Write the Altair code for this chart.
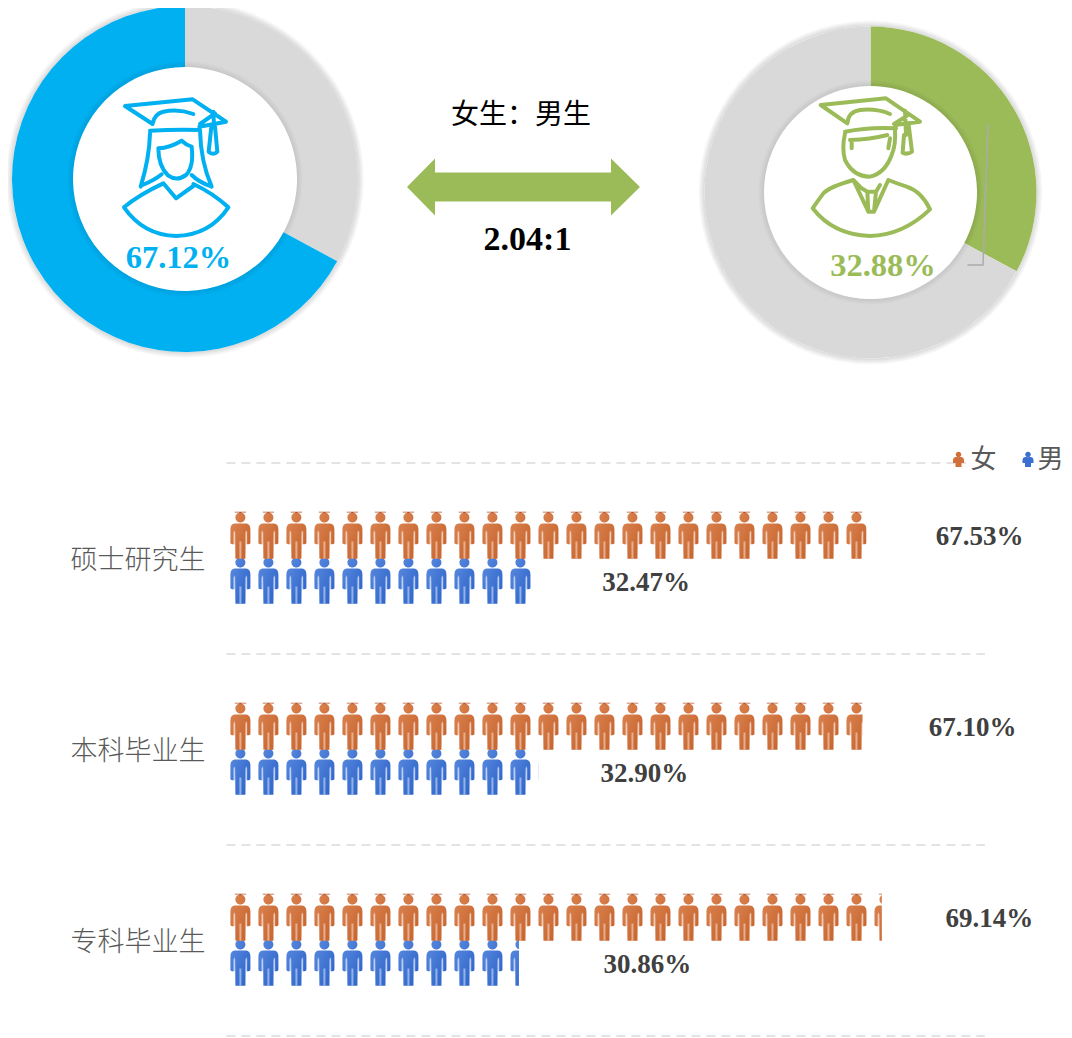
import math
import altair as alt
import pandas as pd

# ---- data ----
categories = ["硕士研究生", "本科毕业生", "专科毕业生"]
female = [67.53, 67.10, 69.14]
male = [32.47, 32.90, 30.86]
overall_female = 67.12
overall_male = 32.88
ratio_text = "2.04:1"
ratio_title = "女生：男生"
legend_names = ["女", "男"]

BLUE, GREEN, GREY = "#00B0F0", "#9BBB59", "#D9D9D9"
LABEL = "#404040"
CAT = "#595959"
W, H = 1056, 1030
UNIT = 2.954  # percent per pictogram
SERIF = "Liberation Serif"
SANS = "Noto Sans CJK SC"

XS = alt.Scale(domain=[0, 100], range=[218.4, 1166.4])
YS = alt.Scale(domain=[0, 3], range=[455, 1028])
one = pd.DataFrame({"a": [0]})
layers = []


def at(x, y):
    return dict(x=alt.value(x - 8), y=alt.value(y - 8))


def txt(s, x, y, size, color, font=SERIF, bold=True):
    layers.append(
        alt.Chart(pd.DataFrame({"t": [s]}))
        .mark_text(fontSize=size, font=font, fontWeight="bold" if bold else "normal",
                   color=color, align="center", baseline="middle")
        .encode(text="t:N", **at(x, y))
    )


def shape(path, x, y, unit=1.0, fill=None, stroke=None, sw=0):
    kw = dict(shape=path, size=(2 * unit) ** 2, opacity=1)
    if fill is not None:
        kw.update(filled=True, fill=fill, strokeWidth=0)
    else:
        kw.update(filled=False, stroke=stroke, strokeWidth=sw, strokeCap="round", strokeJoin="round")
    layers.append(alt.Chart(one).mark_point(**kw).encode(**at(x, y)))


def donut(cx, cy, ro, ri, first_val, first_col, second_val, second_col):
    for i in range(1, 7):
        layers.append(alt.Chart(one).mark_arc(radius=ro + i, radius2=ro, theta=0, theta2=2 * math.pi,
                                              color="#000000", opacity=0.022).encode(**at(cx, cy)))
    d = pd.DataFrame({"v": [first_val, second_val], "c": [first_col, second_col], "o": [0, 1]})
    layers.append(
        alt.Chart(d).mark_arc(radius=ro, radius2=ri, opacity=1)
        .encode(theta=alt.Theta("v:Q", scale=alt.Scale(domain=[0, 100], range=[0, 2 * math.pi]), stack=True),
                color=alt.Color("c:N", scale=None), order=alt.Order("o:Q"), **at(cx, cy))
    )
    for i in range(1, 7):
        layers.append(alt.Chart(one).mark_arc(radius=ri + i, radius2=ri, theta=0, theta2=2 * math.pi,
                                              color="#000000", opacity=0.012).encode(**at(cx, cy)))


# ---- donuts ----
donut(185, 179, 173, 112, overall_male, GREY, overall_female, BLUE)
donut(870.5, 192.5, 166, 106.5, overall_male, GREEN, overall_female, GREY)

# graduate icons (paths in 1/3 px units, origin at the crop corner)
F_ICON = ("M75 78 L278 58 L378 125 L298 140 M75 78 L158 132 M158 130 Q165 100 190 95 Q235 85 280 102 "
          "M150 152 Q225 148 300 150 M340 95 L342 138 M300 132 L345 100 "
          "M334 140 L326 215 Q340 228 352 215 L345 140 Z "
          "M150 160 Q148 235 122 320 M300 150 Q302 245 335 320 M128 315 Q165 300 185 283 M275 285 Q295 305 330 318 "
          "M175 205 Q210 203 245 182 Q260 196 275 200 Q282 260 258 285 Q230 305 205 287 Q175 260 175 205 Z "
          "M192 312 L228 355 L280 318 "
          "M72 382 Q115 345 190 310 M385 382 Q340 340 280 312 "
          "M72 382 Q130 465 228 468 Q330 465 385 382")
M_ICON = ("M92 75 L288 55 L390 125 L315 135 M92 75 L172 130 M172 130 Q175 95 210 90 Q260 85 300 102 "
          "M165 155 Q240 140 318 145 M180 180 Q240 178 292 165 M345 92 L348 165 M312 132 L350 108 "
          "M342 165 L338 218 Q352 225 366 215 L356 135 "
          "M165 160 Q155 205 165 240 Q190 290 240 290 Q285 280 305 225 Q318 195 315 150 "
          "M185 180 L185 205 M300 175 L295 205 "
          "M190 300 Q120 320 100 340 Q85 360 68 385 Q130 465 240 468 Q340 465 420 388 Q395 335 350 320 Q320 310 295 300 "
          "M190 300 L235 395 L232 335 L215 325 M190 300 L215 325 M258 335 L252 395 L295 300 M232 335 L258 335 L270 315 M235 395 L252 395")
shape(F_ICON, 100, 80, 1 / 3, stroke=BLUE, sw=4)
shape(M_ICON, 790, 80, 1 / 3, stroke=GREEN, sw=4)
shape("M988 124 L983 265 L968 265", 0, 0, 1, stroke="#ABABAB", sw=1.5)

txt(f"{overall_female:.2f}%", 178.5, 258, 32.5, BLUE)
txt(f"{overall_male:.2f}%", 883, 266, 32.5, GREEN)

# ---- centre ----
txt(ratio_title, 521, 115.5, 28, "#000000", font=SANS, bold=False)
shape("M-116.5 0 L-88.5 -28.5 L-88.5 -14.5 L87.5 -14.5 L87.5 -28.5 L116.5 0 L87.5 28.5 L87.5 14.5 "
      "L-88.5 14.5 L-88.5 28.5 Z", 523.5, 187, 1, fill=GREEN)
txt(ratio_text, 527.5, 240, 34, "#000000")

# ---- dashed separators ----
sep = pd.DataFrame({"r": [0, 1, 2, 3], "a": [0, 0, 0, 0], "b": [78, 80, 80, 80]})
layers.append(
    alt.Chart(sep).mark_rule(color="#E3E3E3", strokeWidth=2, strokeDash=[9, 6])
    .encode(x=alt.X("a:Q", scale=XS, axis=None), x2="b:Q", y=alt.Y("r:Q", scale=YS, axis=None))
)

# ---- pictograms ----
BODY = ("M-17 -36 L17 -36 Q30 -34 30 -18 L30 22 Q30 26 25 26 L20 26 L20 -10 L16 -10 L15 70 L-15 70 L-16 -10 "
        "L-20 -10 L-20 26 L-25 26 Q-30 26 -30 22 L-30 -18 Q-30 -34 -17 -36 Z "
        "M-15 -54 A15 15 0 1 0 15 -54 A15 15 0 1 0 -15 -54 Z")
LIGHT = ("M-20 -14 L-16 -14 L-16 26 L-20 26 Z M16 -14 L20 -14 L20 26 L16 26 Z M-3 18 L3 18 L3 70 L-3 70 Z")
CAP = "M-17 -71 L17 -71 L17 -69 L3 -69 L3 -67 L-3 -67 L-3 -69 L-17 -69 Z"


def grad(a, b):
    return alt.Gradient(gradient="linear", x1=0, y1=0, x2=1, y2=1,
                        stops=[alt.GradientStop(offset=0, color=a), alt.GradientStop(offset=1, color=b)])


F_Y, M_Y = 72.5 / 191, 117.5 / 191


def icons(values, yfrac, a, b, light, cap=None, top=0, bot=0):
    rows = []
    for r, v in enumerate(values):
        for i in range(math.ceil(v / UNIT)):
            rows.append({"pos": (i + 0.5) * UNIT, "yy": r + yfrac})
    d = pd.DataFrame(rows)
    enc = dict(x=alt.X("pos:Q", scale=XS, axis=None), y=alt.Y("yy:Q", scale=YS, axis=None))
    unit3 = (2 / 3) ** 2
    layers.append(alt.Chart(d).mark_point(shape=BODY, size=unit3, filled=True, fill=grad(a, b),
                                          strokeWidth=0, opacity=1).encode(**enc))
    layers.append(alt.Chart(d).mark_point(shape=LIGHT, size=unit3, filled=True, fill=light,
                                          strokeWidth=0, opacity=0.8).encode(**enc))
    if cap:
        layers.append(alt.Chart(d).mark_point(shape=CAP, size=unit3, filled=True, fill=cap,
                                              strokeWidth=0, opacity=1).encode(**enc))
    m = pd.DataFrame({"v": values, "e": [v + UNIT for v in values],
                      "t": [r + top / 191 for r in range(3)], "b": [r + bot / 191 for r in range(3)]})
    layers.append(alt.Chart(m).mark_rect(color="#FFFFFF", opacity=1).encode(
        x=alt.X("v:Q", scale=XS, axis=None), x2="e:Q",
        y=alt.Y("t:Q", scale=YS, axis=None), y2="b:Q"))


icons(male, M_Y, "#5C8CE0", "#2A60C6", "#A9C3EE", top=93, bot=143)
icons(female, F_Y, "#DC8654", "#C4602A", "#EDBFA4", cap="#B4532A", top=47, bot=96)

# ---- value labels ----
f_dx = [113, 110, 107.5]
m_dx = [112, 106, 128.5]
for vals, dxs, yf in ((female, f_dx, 74 / 191), (male, m_dx, 120 / 191)):
    for r, (v, dx) in enumerate(zip(vals, dxs)):
        d = pd.DataFrame({"v": [v], "yy": [r + yf], "t": [f"{v:.2f}%"]})
        layers.append(alt.Chart(d).mark_text(fontSize=27, font=SERIF, fontWeight="bold", color=LABEL,
                                             dx=dx, baseline="middle", align="center")
                      .encode(x=alt.X("v:Q", scale=XS, axis=None), y=alt.Y("yy:Q", scale=YS, axis=None), text="t:N"))

# ---- category labels ----
c = pd.DataFrame({"t": categories, "r": [i + 97.5 / 191 for i in range(3)]})
layers.append(alt.Chart(c).mark_text(fontSize=27, font=SANS, fontWeight=300, color=CAT, align="center", baseline="middle")
              .encode(x=alt.value(138 - 8), y=alt.Y("r:Q", scale=YS, axis=None), text="t:N"))

# ---- legend ----
LEG = ("M-3 -2.5 L3 -2.5 Q5.5 -2 5.5 0.5 L5.5 3.5 L3 3.5 L3 7.5 L-3 7.5 L-3 3.5 L-5.5 3.5 L-5.5 0.5 Q-5.5 -2 -3 -2.5 Z "
       "M-2.8 -5 A2.8 2.8 0 1 0 2.8 -5 A2.8 2.8 0 1 0 -2.8 -5 Z")
shape(LEG, 958.5, 459.5, 1, fill="#D0703A")
shape(LEG, 1028, 459.5, 1, fill="#3B70D2")
txt(legend_names[0], 983.5, 459.5, 26, CAT, font=SANS, bold=False)
txt(legend_names[1], 1050.5, 459.5, 26, CAT, font=SANS, bold=False)

chart = (
    alt.layer(*layers)
    .properties(width=W, height=H, padding=0, autosize=alt.AutoSizeParams(type="none"), background="#FFFFFF")
    .configure_view(stroke=None)
)
chart.save("out.html", embed_options={"renderer": "svg", "actions": False})
